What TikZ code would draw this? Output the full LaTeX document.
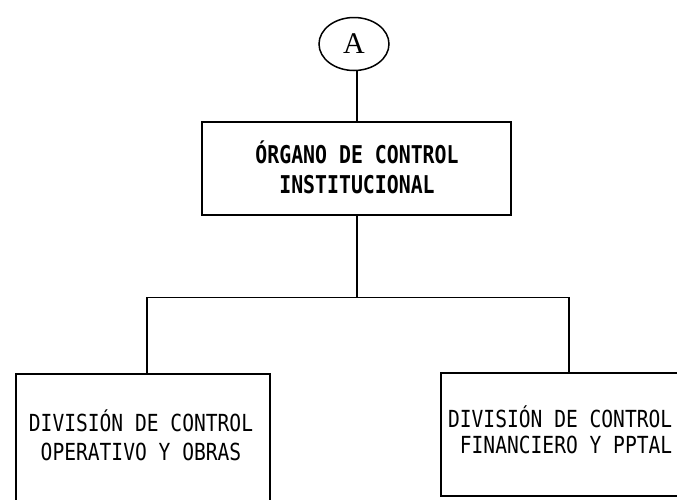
\documentclass[tikz,border=0pt]{standalone}
\usepackage{fontspec}
\newfontfamily\gothic[FakeStretch=0.834]{DejaVu Sans Mono}
\newfontfamily\gothicb[FakeStretch=0.81]{DejaVu Sans Mono Bold}
\newfontfamily\serifA{Liberation Serif}
\usetikzlibrary{shapes.geometric}
\begin{document}
\begin{tikzpicture}[x=1pt,y=-1pt,line width=1.5pt,
  box/.style={draw,rectangle,inner sep=0pt,outer sep=0pt,anchor=north west},
  txt/.style={inner sep=0pt,anchor=base,font=\gothic\fontsize{23.5}{28}\selectfont},
  txtb/.style={txt,font=\gothicb\fontsize{24.5}{28}\selectfont},
  txtr/.style={txt,anchor=base east}]
\useasboundingbox (0,0) rectangle (677,499);
% circle
\node[draw,ellipse,minimum width=70pt,minimum height=53pt,inner sep=0pt,outer sep=0pt,
  font=\serifA\fontsize{30}{32}\selectfont] (A) at (354,44) {A};
% boxes
\node[box,minimum width=309pt,minimum height=93pt] (org) at (202,122) {};
\node[box,minimum width=254pt,minimum height=128pt] (left) at (16,374) {};
\node[box,minimum width=240pt,minimum height=123pt] (right) at (441,373) {};
% texts
\node[txtb] (t1) at (357,163) {ÓRGANO DE CONTROL};
\node[txtb] (t2) at (357,193) {INSTITUCIONAL};
\node[txt] (l1) at (141,431) {DIVISIÓN DE CONTROL};
\node[txt] (l2) at (141,460) {OPERATIVO Y OBRAS};
\node[txtr] (r1) at (673,427) {DIVISIÓN DE CONTROL};
\node[txtr] (r2) at (673,453) {FINANCIERO Y PPTAL};
% connectors
\coordinate (hub) at (357,297.5);
\draw (org.north -| hub) ++(0,-51) -- (org.north -| hub);
\draw (org.south -| hub) -- (hub);
\draw (hub) -| (147,374) coordinate (lt);
\draw (hub) -| (569,373) coordinate (rt);
\end{tikzpicture}
\end{document}
